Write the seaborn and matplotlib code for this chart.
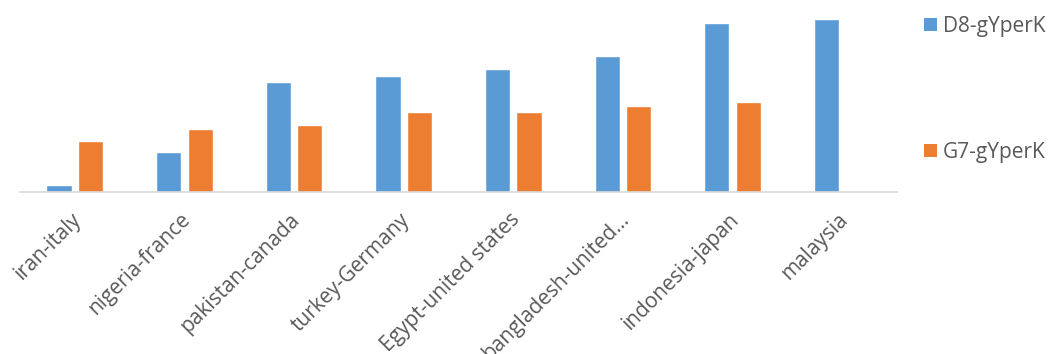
import matplotlib
matplotlib.use("Agg")
import matplotlib.pyplot as plt
import matplotlib.transforms as mtransforms
import seaborn as sns
import pandas as pd
import numpy as np
from matplotlib.patches import Patch

categories = ["iran-italy", "nigeria-france", "pakistan-canada", "turkey-Germany",
              "Egypt-united states", "bangladesh-united\u2026", "indonesia-japan", "malaysia"]
d8_values = [6.7, 40.0, 109.3, 115.3, 122.3, 136.0, 168.7, 173.0]
g7_values = [50.3, 63.0, 66.3, 79.7, 79.7, 86.0, 89.3, np.nan]
series_names = ["D8-gYperK", "G7-gYperK"]
colors = ["#5B9BD5", "#ED7D31"]

df = pd.DataFrame({
    "category": categories * 2,
    "series": [series_names[0]] * len(categories) + [series_names[1]] * len(categories),
    "value": d8_values + g7_values,
})
df = df.dropna()

sns.set_theme(style="white")
plt.rcParams["font.family"] = ["Open Sans", "DejaVu Sans"]

W, H = 1050, 354
fig = plt.figure(figsize=(W / 100, H / 100), dpi=100)
ax = fig.add_axes([20 / W, 1 - 191.5 / H, (897 - 20) / W, (191.5 - 10) / H])

sns.barplot(data=df, x="category", y="value", hue="series", order=categories,
            hue_order=series_names, palette=colors, width=0.575, gap=0.2,
            saturation=1, ax=ax, legend=False, errorbar=None)

ax.set_xlim(-0.5, 7.5)
ax.set_ylim(0, 181.5)
ax.set_xlabel("")
ax.set_ylabel("")
ax.set_yticks([])
for s in ["top", "right", "left"]:
    ax.spines[s].set_visible(False)
ax.spines["bottom"].set_color("#d9d9d9")
ax.spines["bottom"].set_linewidth(1.2)
ax.tick_params(axis="x", length=0, pad=18)
ax.set_xticks(range(len(categories)))
ax.set_xticklabels(categories, rotation=45, ha="right", va="center",
                   rotation_mode="anchor", fontsize=15, color="#595959")
offset = mtransforms.ScaledTranslation(3 / 100, 0, fig.dpi_scale_trans)
for lab in ax.get_xticklabels():
    lab.set_transform(lab.get_transform() + offset)

handles = [Patch(facecolor=c, edgecolor="none") for c in colors]
fig.legend(handles, series_names, loc="upper left", bbox_to_anchor=(924 / W, 1 - 16 / H),
           frameon=False, fontsize=15, labelcolor="#595959", handlelength=0.6,
           handleheight=0.6, handletextpad=0.3, labelspacing=5.05, borderaxespad=0,
           borderpad=0)

fig.savefig("out.png", dpi=100)
